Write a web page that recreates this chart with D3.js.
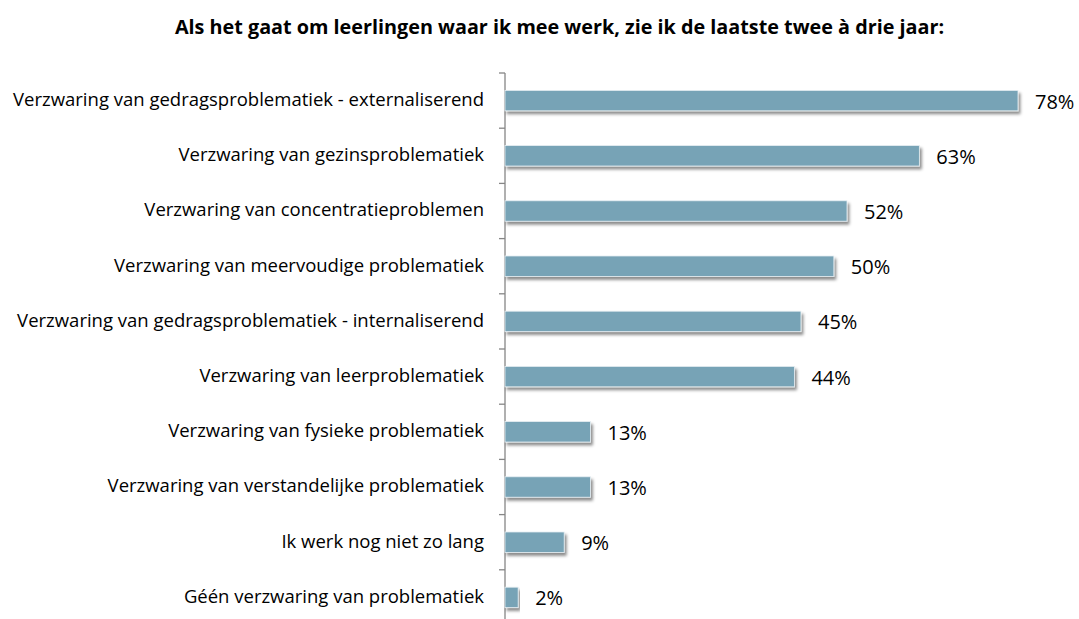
<!DOCTYPE html>
<html><head><meta charset="utf-8">
<script src="https://cdn.jsdelivr.net/npm/d3@7/dist/d3.min.js"></script>
<style>body{margin:0;background:#fff}svg{display:block}</style>
</head><body>
<svg id="c" width="1079" height="619"></svg>
<script>
const title = "Als het gaat om leerlingen waar ik mee werk, zie ik de laatste twee à drie jaar:";
const categories = [
  "Verzwaring van gedragsproblematiek - externaliserend",
  "Verzwaring van gezinsproblematiek",
  "Verzwaring van concentratieproblemen",
  "Verzwaring van meervoudige problematiek",
  "Verzwaring van gedragsproblematiek - internaliserend",
  "Verzwaring van leerproblematiek",
  "Verzwaring van fysieke problematiek",
  "Verzwaring van verstandelijke problematiek",
  "Ik werk nog niet zo lang",
  "Géén verzwaring van problematiek"
];
const values = [78, 63, 52, 50, 45, 44, 13, 13, 9, 2];

const svg = d3.select("#c");
const font = "Open Sans, Liberation Sans, sans-serif";
const defs = svg.append("defs");
const f = defs.append("filter").attr("id","sh").attr("x","-5%").attr("y","-40%").attr("width","115%").attr("height","200%");
f.append("feDropShadow").attr("dx",2).attr("dy",3).attr("stdDeviation",1.6).attr("flood-color","#000").attr("flood-opacity",0.45);

const x0 = 505, yTop = 73, step = 55.2;
const y = d3.scaleBand().domain(categories).range([yTop, yTop + step*categories.length]).paddingInner(0.63).paddingOuter(0.315);
const x = d3.scaleLinear().domain([0, 78]).range([x0, 1018]);

svg.append("text").attr("x", 559.5).attr("y", 33.5).attr("text-anchor","middle")
  .attr("font-family", font).attr("font-weight","bold").attr("font-size", 19.8).attr("fill","#000").text(title);

const bounds = d3.range(categories.length + 1).map(i => yTop + step*i);
svg.append("line").attr("x1",x0).attr("x2",x0).attr("y1",yTop).attr("y2",yTop+step*categories.length).attr("stroke","#868686").attr("stroke-width",1.3);
svg.selectAll(".tk").data(bounds).join("line").attr("class","tk")
  .attr("x1",x0-6).attr("x2",x0).attr("y1",d=>d).attr("y2",d=>d).attr("stroke","#868686").attr("stroke-width",1.3);

const g = svg.append("g");
g.selectAll("rect").data(values).join("rect")
  .attr("x", x(0)).attr("y", (d,i)=>y(categories[i]))
  .attr("width", d => x(d)-x(0)).attr("height", y.bandwidth())
  .attr("fill","#77A3B6").attr("stroke","#e6eef2").attr("stroke-width",0.8)
  .attr("filter","url(#sh)");

svg.selectAll(".cl").data(categories).join("text").attr("class","cl")
  .attr("x", 484).attr("y", d => y(d)+y.bandwidth()/2 - 1).attr("dy","0.35em")
  .attr("text-anchor","end").attr("font-family",font).attr("font-size",18.5).attr("fill","#000").text(d=>d);

svg.selectAll(".vl").data(values).join("text").attr("class","vl")
  .attr("x", d => x(d)+17).attr("y", (d,i)=>y(categories[i])+y.bandwidth()/2 + 1).attr("dy","0.35em")
  .attr("font-family",font).attr("font-size",20).attr("fill","#000").text(d=>d+"%");
</script>
</body></html>
